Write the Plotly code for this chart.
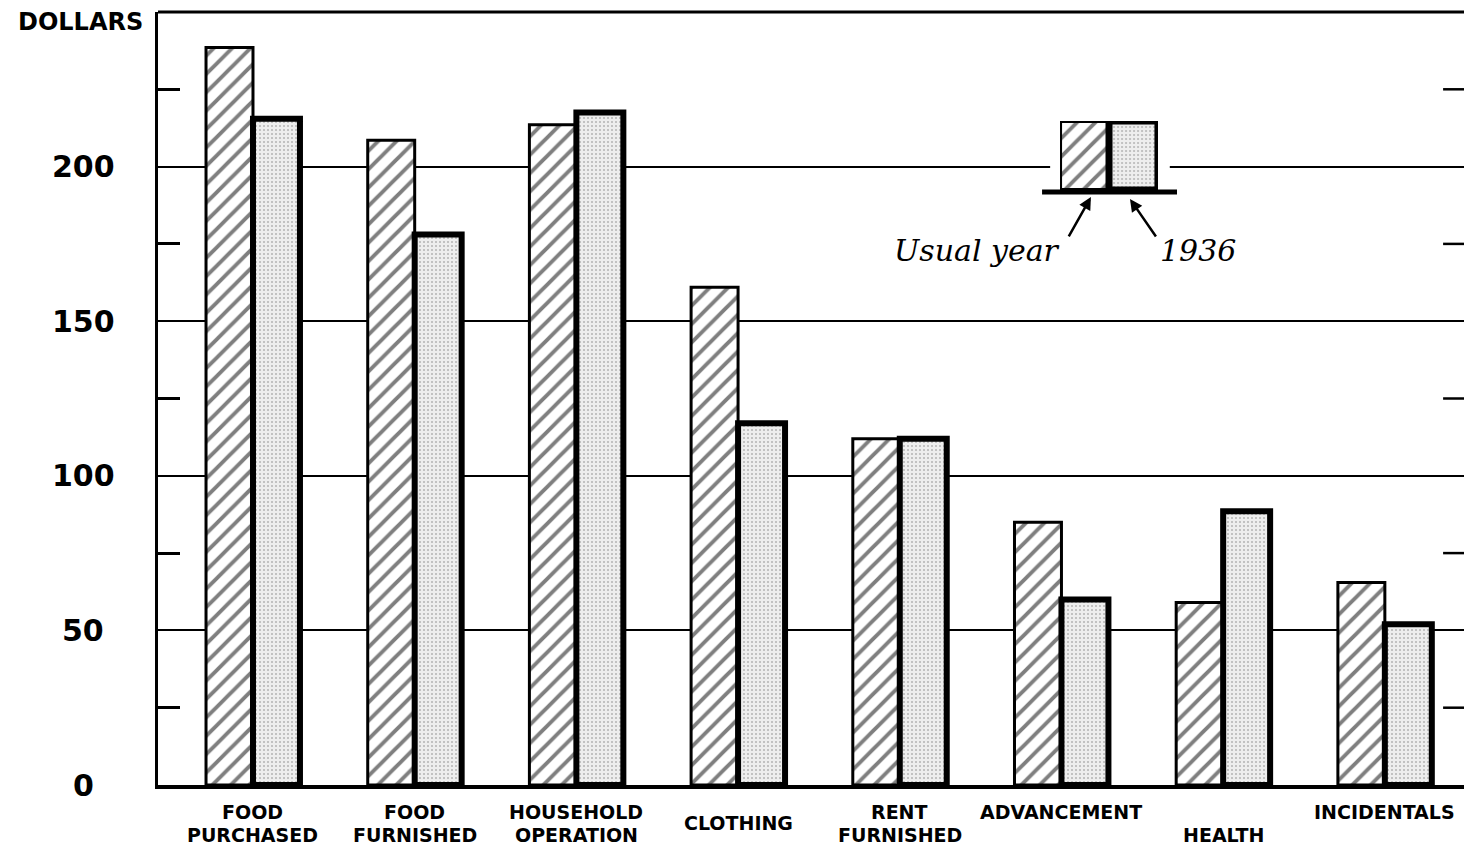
import plotly.graph_objects as go

# ---------------- data ----------------
categories = ["FOOD PURCHASED", "FOOD FURNISHED", "HOUSEHOLD OPERATION", "CLOTHING",
              "RENT FURNISHED", "ADVANCEMENT", "HEALTH", "INCIDENTALS"]
usual_year = [238.5, 208.5, 213.5, 161, 112, 85, 59, 65.5]
year_1936 = [215.5, 178, 217.5, 117, 112, 60, 88.5, 52]

label_top = ["FOOD", "FOOD", "HOUSEHOLD", "", "RENT", "ADVANCEMENT", "", "INCIDENTALS"]
label_mid = ["", "", "", "CLOTHING", "", "", "", ""]
label_bot = ["PURCHASED", "FURNISHED", "OPERATION", "", "FURNISHED", "", "HEALTH", ""]

major_ticks = [0, 50, 100, 150, 200]
minor_ticks = [25, 75, 125, 175, 225]
series_names = ["Usual year", "1936"]

# ---------------- styles ----------------
HATCH = dict(shape="/", fgcolor="black", bgcolor="white", size=13, solidity=0.3)
SPECK = dict(shape=".", fgcolor="#7a7a7a", bgcolor="#eeeeee", size=4, solidity=0.2)
SANS = "DejaVu Sans"
SERIF = "DejaVu Serif"

fig = go.Figure()
fig.add_trace(go.Bar(x=categories, y=usual_year, name=series_names[0],
                     marker=dict(color="white", pattern=HATCH,
                                 line=dict(color="black", width=3))))
fig.add_trace(go.Bar(x=categories, y=year_1936, name=series_names[1],
                     marker=dict(color="#eeeeee", pattern=SPECK,
                                 line=dict(color="black", width=6))))

# legend key drawn as small bars on their own axes
fig.add_trace(go.Bar(x=[0], y=[1], width=[1], offset=[0], xaxis="x2", yaxis="y2",
                     marker=dict(color="white", pattern=HATCH, line=dict(color="black", width=4)),
                     showlegend=False, hoverinfo="skip"))
fig.add_trace(go.Bar(x=[1], y=[1], width=[1], offset=[0], xaxis="x2", yaxis="y2",
                     marker=dict(color="#eeeeee", pattern=SPECK, line=dict(color="black", width=7)),
                     showlegend=False, hoverinfo="skip"))

annotations = []
# y tick labels (centered)
for v in major_ticks:
    annotations.append(dict(x=0, xref="paper", y=v, yref="y", xshift=-75,
                            text=str(v), showarrow=False, xanchor="center", yanchor="middle",
                            font=dict(family=SANS, size=30, color="black", weight="bold")))
annotations.append(dict(x=0, xref="paper", y=1, yref="paper", xshift=-78, yshift=-10,
                        text="DOLLARS", showarrow=False, xanchor="center", yanchor="middle",
                        font=dict(family=SANS, size=24, color="black", weight="bold")))
# category labels
for c, t, m, b in zip(categories, label_top, label_mid, label_bot):
    for txt, ys in ((t, -27), (m, -38), (b, -50)):
        if txt:
            annotations.append(dict(x=c, xref="x", y=0, yref="paper", yshift=ys,
                                    text=txt, showarrow=False, xanchor="center", yanchor="middle",
                                    font=dict(family=SANS, size=19, color="black", weight="bold")))
# legend texts
annotations.append(dict(x=0.6880, y=0.6921, xref="paper", yref="paper", text="Usual year",
                        showarrow=False, xanchor="right", yanchor="middle",
                        font=dict(family=SERIF, size=30, color="black", style="italic")))
annotations.append(dict(x=0.7610, y=0.6921, xref="paper", yref="paper", text="1936",
                        showarrow=False, xanchor="left", yanchor="middle",
                        font=dict(family=SERIF, size=30, color="black", style="italic")))
annotations.append(dict(x=0.7100, y=0.7607, xref="paper", yref="paper", text="",
                        showarrow=True, ax=-23, ay=41, arrowhead=2, arrowwidth=2.5,
                        arrowsize=1, arrowcolor="black"))
annotations.append(dict(x=0.7397, y=0.7581, xref="paper", yref="paper", text="",
                        showarrow=True, ax=27, ay=39, arrowhead=2, arrowwidth=2.5,
                        arrowsize=1, arrowcolor="black"))

shapes = []
# white gap behind legend (hides gridline)
shapes.append(dict(type="rect", xref="x", yref="y", x0=4.93, x1=5.67, y0=193, y1=215,
                   fillcolor="white", line=dict(width=0), layer="between"))
# legend baseline
shapes.append(dict(type="line", xref="paper", yref="paper", x0=0.6728, x1=0.7755,
                   y0=0.7671, y1=0.7671, line=dict(color="black", width=5)))
# top frame
shapes.append(dict(type="line", xref="paper", yref="paper", x0=0, x1=1, y0=1, y1=1,
                   line=dict(color="black", width=3)))
# right-side minor ticks
for v in minor_ticks:
    shapes.append(dict(type="line", xref="paper", yref="y", x0=0.978, x1=1, y0=v, y1=v,
                       line=dict(color="black", width=2.5)))

# page body has an 8px margin, so the figure is sized/offset accordingly
fig.update_layout(
    width=1464, height=839,
    margin=dict(l=150, r=0, t=4, b=62),
    paper_bgcolor="white", plot_bgcolor="white",
    barmode="group", bargap=0.419, bargroupgap=0,
    showlegend=False,
    annotations=annotations, shapes=shapes,
    xaxis=dict(type="category", categoryorder="array", categoryarray=categories,
               range=[-0.5875, 7.539], showticklabels=False, ticks="",
               showline=True, linecolor="black", linewidth=4, showgrid=False, zeroline=False),
    yaxis=dict(range=[0, 250], tickvals=major_ticks, showticklabels=False, ticks="",
               showgrid=True, gridcolor="black", gridwidth=2, zeroline=False,
               showline=True, linecolor="black", linewidth=3,
               minor=dict(tickvals=minor_ticks, ticks="inside", ticklen=22,
                          tickwidth=2.5, tickcolor="black", showgrid=False)),
    xaxis2=dict(domain=[0.6865, 0.7610], range=[0, 2], visible=False, anchor="y2"),
    yaxis2=dict(domain=[0.7697, 0.8590], range=[0, 1], visible=False, anchor="x2"),
)

fig.write_html("out.html")
